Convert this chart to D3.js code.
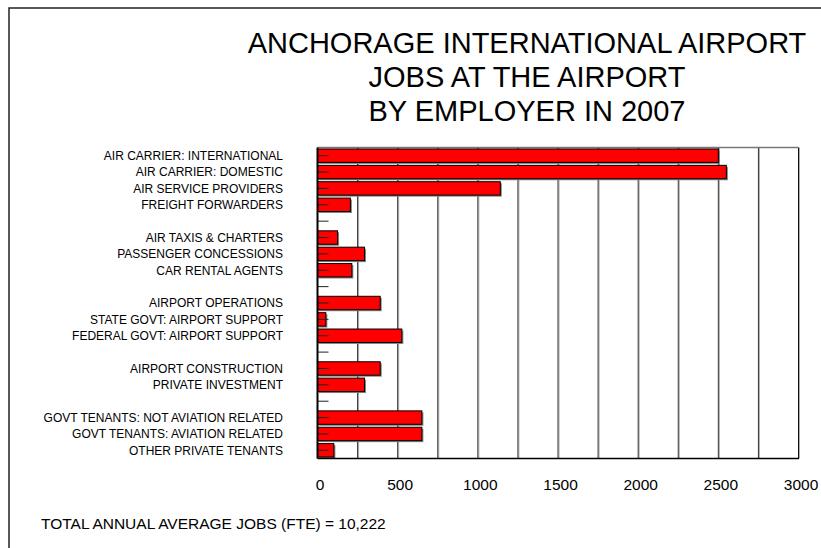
<!DOCTYPE html>
<html>
<head>
<meta charset="utf-8">
<script src="https://cdn.jsdelivr.net/npm/d3@7"></script>
<style>
  body { margin: 0; background: #fff; }
  text { font-family: "Liberation Sans", Arial, sans-serif; fill: #000; }
</style>
</head>
<body>
<svg id="jobs-svg"></svg>
<script>
var w = 821;
var h = 548;

// blank strings / nulls are the empty spacer rows between the groups
var employers = [
  "AIR CARRIER: INTERNATIONAL",
  "AIR CARRIER: DOMESTIC",
  "AIR SERVICE PROVIDERS",
  "FREIGHT FORWARDERS",
  "",
  "AIR TAXIS & CHARTERS",
  "PASSENGER CONCESSIONS",
  "CAR RENTAL AGENTS",
  "",
  "AIRPORT OPERATIONS",
  "STATE GOVT: AIRPORT SUPPORT",
  "FEDERAL GOVT: AIRPORT SUPPORT",
  "",
  "AIRPORT CONSTRUCTION",
  "PRIVATE INVESTMENT",
  "",
  "GOVT TENANTS: NOT AVIATION RELATED",
  "GOVT TENANTS: AVIATION RELATED",
  "OTHER PRIVATE TENANTS"
];
var jobs = [2500, 2550, 1140, 205, null, 125, 293, 214, null, 391, 52, 526, null, 391, 293, null, 651, 651, 102];
var xTicks = [0, 500, 1000, 1500, 2000, 2500, 3000];
var gridValues = d3.range(0, 3001, 250);
var titleLines = ["ANCHORAGE INTERNATIONAL AIRPORT", "JOBS AT THE AIRPORT", "BY EMPLOYER IN 2007"];
var footnote = "TOTAL ANNUAL AVERAGE JOBS (FTE) = 10,222";

var plotLeft = 317.5, plotRight = 798.5, plotTop = 147.5, plotBottom = 458.5;

var svg = d3.select("#jobs-svg")
  .attr("width", w)
  .attr("height", h);

svg.append("rect")
  .attr("width", w).attr("height", h)
  .attr("fill", "#fff");

// outer frame (right and bottom edges fall outside the picture)
svg.append("path")
  .attr("d", "M9," + h + "V8H" + w)
  .attr("fill", "none")
  .attr("stroke", "#222")
  .attr("stroke-width", 1.5);

var xScale = d3.scaleLinear()
  .domain([0, 3000])
  .range([plotLeft, plotRight]);

var yScale = d3.scaleBand()
  .domain(d3.range(employers.length))
  .range([plotTop, plotBottom])
  .paddingInner(0.18)
  .paddingOuter(0.09);

// grid lines with a light shadow
svg.append("g").selectAll("line")
  .data(gridValues.slice(1))
  .enter()
  .append("line")
  .attr("x1", function(d){ return xScale(d) + 1; })
  .attr("x2", function(d){ return xScale(d) + 1; })
  .attr("y1", plotTop)
  .attr("y2", plotBottom)
  .attr("stroke", "#aaa")
  .attr("stroke-width", 1);

svg.append("g").selectAll("line")
  .data(gridValues.slice(1))
  .enter()
  .append("line")
  .attr("x1", function(d){ return xScale(d); })
  .attr("x2", function(d){ return xScale(d); })
  .attr("y1", plotTop)
  .attr("y2", plotBottom)
  .attr("stroke", function(d){ return d === 3000 ? "#111" : "#333"; })
  .attr("stroke-width", 1);

svg.append("line")
  .attr("x1", plotLeft).attr("x2", plotRight)
  .attr("y1", plotTop).attr("y2", plotTop)
  .attr("stroke", "#777")
  .attr("stroke-width", 1.5);

var rows = employers.map(function(name, i){ return {name: name, value: jobs[i], i: i}; });
var barRows = rows.filter(function(d){ return d.value !== null; });

// bar shadows
svg.append("g").selectAll("rect")
  .data(barRows)
  .enter()
  .append("rect")
  .attr("x", xScale(0) + 1.5)
  .attr("y", function(d){ return yScale(d.i) + 1.5; })
  .attr("width", function(d){ return xScale(d.value) - xScale(0); })
  .attr("height", yScale.bandwidth())
  .attr("fill", "#808080");

svg.append("g").selectAll("rect")
  .data(barRows)
  .enter()
  .append("rect")
  .attr("class", "bar")
  .attr("x", xScale(0))
  .attr("y", function(d){ return yScale(d.i); })
  .attr("width", function(d){ return xScale(d.value) - xScale(0); })
  .attr("height", yScale.bandwidth())
  .attr("fill", "#ff0000")
  .attr("stroke", "#000")
  .attr("stroke-width", 1);

// short inward category ticks
svg.append("g").selectAll("line")
  .data(rows)
  .enter()
  .append("line")
  .attr("x1", plotLeft)
  .attr("x2", plotLeft + 11)
  .attr("y1", function(d){ return yScale(d.i) + yScale.bandwidth() / 2; })
  .attr("y2", function(d){ return yScale(d.i) + yScale.bandwidth() / 2; })
  .attr("stroke", "#222")
  .attr("stroke-width", 1);

// axis lines
svg.append("line")
  .attr("x1", plotLeft).attr("x2", plotRight + 0.5)
  .attr("y1", plotBottom).attr("y2", plotBottom)
  .attr("stroke", "#000")
  .attr("stroke-width", 1.5);

svg.append("line")
  .attr("x1", plotLeft).attr("x2", plotLeft)
  .attr("y1", plotTop).attr("y2", plotBottom)
  .attr("stroke", "#000")
  .attr("stroke-width", 2);

// category labels
svg.append("g").selectAll("text")
  .data(rows.filter(function(d){ return d.name !== ""; }))
  .enter()
  .append("text")
  .attr("x", 283)
  .attr("y", function(d){ return yScale(d.i) + yScale.bandwidth() / 2; })
  .attr("dy", "0.36em")
  .attr("text-anchor", "end")
  .attr("font-size", "12px")
  .text(function(d){ return d.name; });

// value axis labels
var xAxis = d3.axisBottom(xScale)
  .tickValues(xTicks)
  .tickFormat(d3.format("d"))
  .tickSize(0)
  .tickPadding(20);

var xg = svg.append("g")
  .attr("transform", "translate(2," + plotBottom + ")")
  .call(xAxis);
xg.select(".domain").remove();
xg.selectAll("text")
  .attr("font-family", "'Liberation Sans', Arial, sans-serif")
  .attr("font-size", "15.5px")
  .attr("fill", "#000");

svg.append("g").selectAll("text")
  .data(titleLines)
  .enter()
  .append("text")
  .attr("x", 527)
  .attr("y", function(d, i){ return 53 + i * 34; })
  .attr("text-anchor", "middle")
  .attr("font-size", "29px")
  .text(function(d){ return d; });

svg.append("text")
  .attr("x", 41)
  .attr("y", 529)
  .attr("font-size", "15.5px")
  .text(footnote);
</script>
</body>
</html>
